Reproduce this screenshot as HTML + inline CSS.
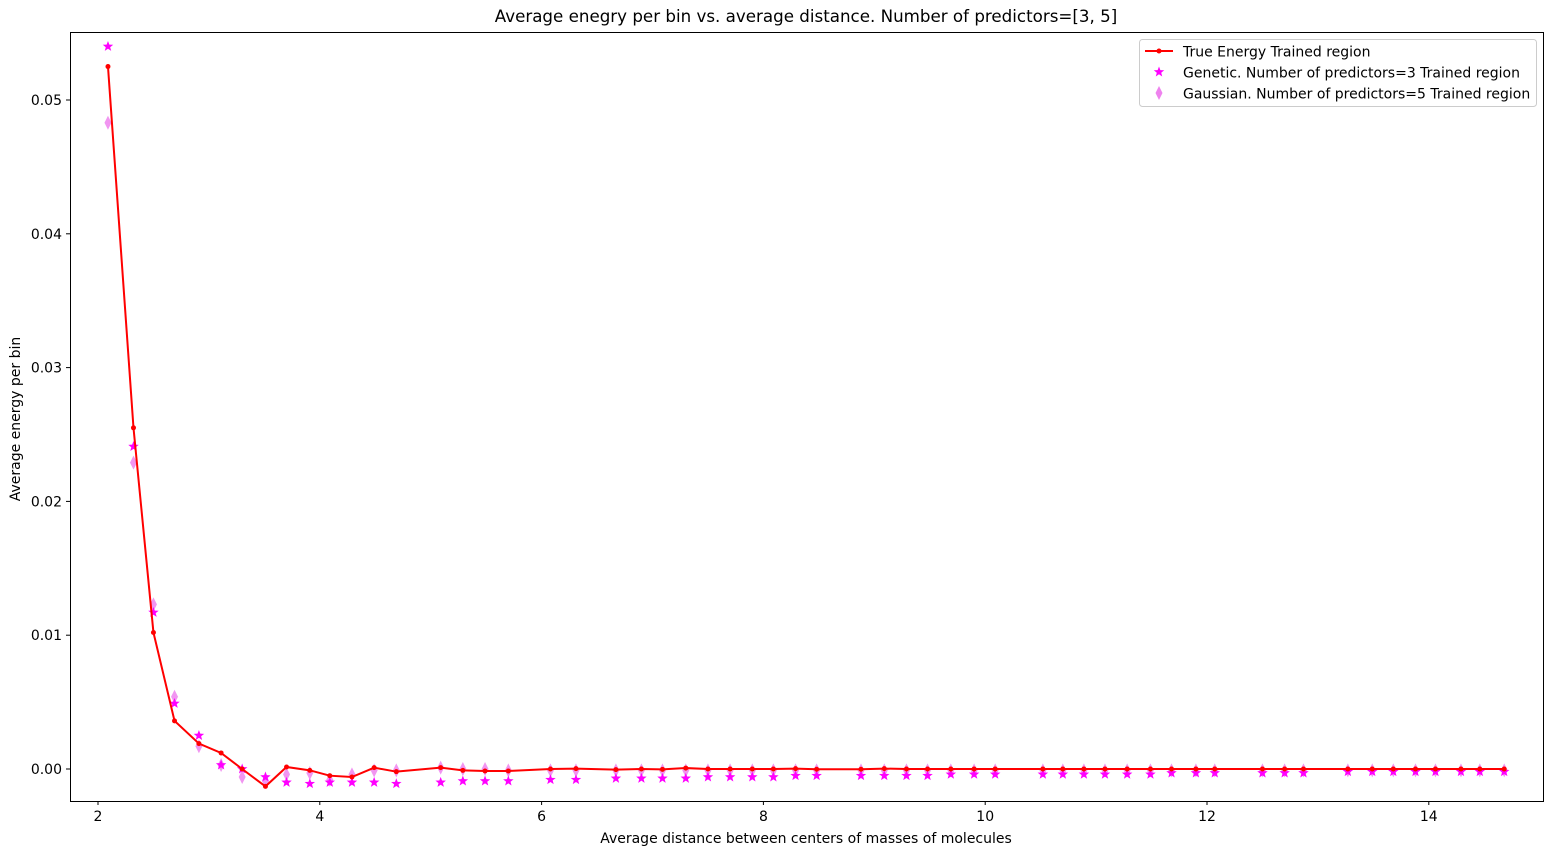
<!DOCTYPE html>
<html><head><meta charset="utf-8"><style>
body{margin:0;background:#fff;}
svg{display:block;font-family:"DejaVu Sans","Liberation Sans",sans-serif;}
</style></head><body>
<svg id="chart" width="1556" height="855" xmlns="http://www.w3.org/2000/svg">
<rect x="0" y="0" width="1556" height="855" fill="#fff"/>
<text x="806" y="22" font-size="16.7" text-anchor="middle">Average enegry per bin vs. average distance. Number of predictors=[3, 5]</text>
<g id="grid"></g>
<g id="marks"></g>
<rect x="70.5" y="32.5" width="1473" height="769" fill="none" stroke="#000" stroke-width="1"/>
<text x="806" y="843" font-size="14" text-anchor="middle">Average distance between centers of masses of molecules</text>
<text transform="translate(20,419) rotate(-90)" font-size="14" text-anchor="middle">Average energy per bin</text>
<g>
<rect x="1139.5" y="39.5" width="397" height="67" rx="3" fill="#fff" stroke="#ccc"/>
<line x1="1145" y1="51" x2="1173" y2="51" stroke="#f00" stroke-width="2"/>
<circle cx="1159" cy="51" r="2.5" fill="#f00"/>
<text x="1183" y="56.5" font-size="14">True Energy Trained region</text>
<polygon id="legstar" fill="#f0f"/>
<text x="1183" y="77.5" font-size="14">Genetic. Number of predictors=3 Trained region</text>
<polygon points="1159,86 1162.5,93 1159,100 1155.5,93" fill="#ee82ee"/>
<text x="1183" y="98.5" font-size="14">Gaussian. Number of predictors=5 Trained region</text>
</g>
</svg>
<script>
const xs=[2.09,2.32,2.50,2.69,2.91,3.11,3.30,3.51,3.70,3.91,4.09,4.29,4.49,4.69,5.09,5.29,5.49,5.70,6.08,6.31,6.67,6.90,7.09,7.30,7.50,7.70,7.90,8.09,8.29,8.48,8.88,9.09,9.29,9.48,9.69,9.90,10.09,10.52,10.70,10.89,11.08,11.28,11.49,11.68,11.90,12.07,12.50,12.70,12.87,13.27,13.49,13.68,13.88,14.06,14.29,14.46,14.68];
const trueE=[0.0525,0.0255,0.0102,0.0036,0.0019,0.0012,0.0000,-0.0013,0.00015,-0.0001,-0.0005,-0.0006,0.0001,-0.0002,0.0001,-0.0001,-0.00015,-0.00015,0,0.00003,-0.00005,0,-0.00003,0.00007,0,0,0,0,0.00003,-0.00002,-0.00002,0.00003,0,0,0,0,0,0,0,0,0,0,0,0,0,0,0,0,0,0,0,0,0,0,0,0,0];
const genetic=[0.0540,0.0241,0.0117,0.0049,0.0025,0.0003,0.0000,-0.0006,-0.0010,-0.0011,-0.0010,-0.0010,-0.0010,-0.0011,-0.0010,-0.0009,-0.0009,-0.0009,-0.0008,-0.0008,-0.0007,-0.0007,-0.0007,-0.0007,-0.0006,-0.0006,-0.0006,-0.0006,-0.0005,-0.0005,-0.0005,-0.0005,-0.0005,-0.0005,-0.0004,-0.0004,-0.0004,-0.0004,-0.0004,-0.0004,-0.0004,-0.0004,-0.0004,-0.0003,-0.0003,-0.0003,-0.0003,-0.0003,-0.0003,-0.0002,-0.0002,-0.0002,-0.0002,-0.0002,-0.0002,-0.0002,-0.0002];
const gaussian=[0.0483,0.0229,0.0123,0.0054,0.0017,0.0003,-0.0006,-0.0009,-0.0004,-0.0003,-0.0008,-0.0004,-0.0001,-0.0001,0.0001,0,0,-0.0001,-0.0001,-0.0001,-0.0001,-0.0001,-0.0001,-0.0001,-0.0001,-0.0001,-0.0001,-0.0001,-0.0001,-0.0001,-0.0001,-0.0001,-0.0001,-0.0001,-0.0001,-0.0001,-0.0001,-0.0001,-0.0001,-0.0001,-0.0001,-0.0001,-0.0001,-0.0001,-0.0001,-0.0001,-0.0001,-0.0001,-0.0001,-0.0001,-0.0001,-0.0001,-0.0001,-0.0001,-0.0001,-0.0001,-0.0001];
const xTicks=[2,4,6,8,10,12,14];
const yTicks=[0,0.01,0.02,0.03,0.04,0.05];
const yTickLabels=["0.00","0.01","0.02","0.03","0.04","0.05"];
const NS="http://www.w3.org/2000/svg";
const X=v=>98+(v-2)*110.9;
const Y=v=>769-v*13380;
function mk(tag,attrs,parent){const e=document.createElementNS(NS,tag);for(const k in attrs)e.setAttribute(k,attrs[k]);parent.appendChild(e);return e;}
function starPts(cx,cy,R){const r=R*0.42;let p=[];for(let i=0;i<10;i++){const a=-Math.PI/2+i*Math.PI/5;const rr=i%2?r:R;p.push((cx+rr*Math.cos(a)).toFixed(2)+","+(cy+rr*Math.sin(a)).toFixed(2));}return p.join(" ");}
document.getElementById('legstar').setAttribute('points',starPts(1159,72,5.5));
const g=document.getElementById('grid');
xTicks.forEach(t=>{
 const l=mk('line',{x1:X(t),x2:X(t),y1:801,y2:805,stroke:'#000'},g);
 
 
 const tx=mk('text',{x:X(t),y:821,'font-size':14,'text-anchor':'middle'},g);tx.textContent=t;
 
 
});
yTicks.forEach((t,i)=>{
 const l=mk('line',{x1:66,x2:70,y1:Y(t),y2:Y(t),stroke:'#000'},g);
 
 
 const tx=mk('text',{x:62,y:Y(t)+5,'font-size':14,'text-anchor':'end'},g);tx.textContent=yTickLabels[i];
 
 
});
const m=document.getElementById('marks');
xs.forEach((x,i)=>{
 const d=mk('polygon',{points:`${X(x)},${Y(gaussian[i])-7} ${X(x)+3.5},${Y(gaussian[i])} ${X(x)},${Y(gaussian[i])+7} ${X(x)-3.5},${Y(gaussian[i])}`,fill:'#ee82ee','fill-opacity':0.85},m);
 
 
});
xs.forEach((x,i)=>{
 const s=mk('polygon',{points:starPts(X(x),Y(genetic[i]),5.5),fill:'#f0f'},m);
 
 
});
const line=mk('polyline',{points:xs.map((x,i)=>X(x)+","+Y(trueE[i])).join(" "),fill:'none',stroke:'#f00','stroke-width':2},m);


xs.forEach((x,i)=>{
 const c=mk('circle',{cx:X(x),cy:Y(trueE[i]),r:2.5,fill:'#f00'},m);
 
 
});
</script>
</body></html>
